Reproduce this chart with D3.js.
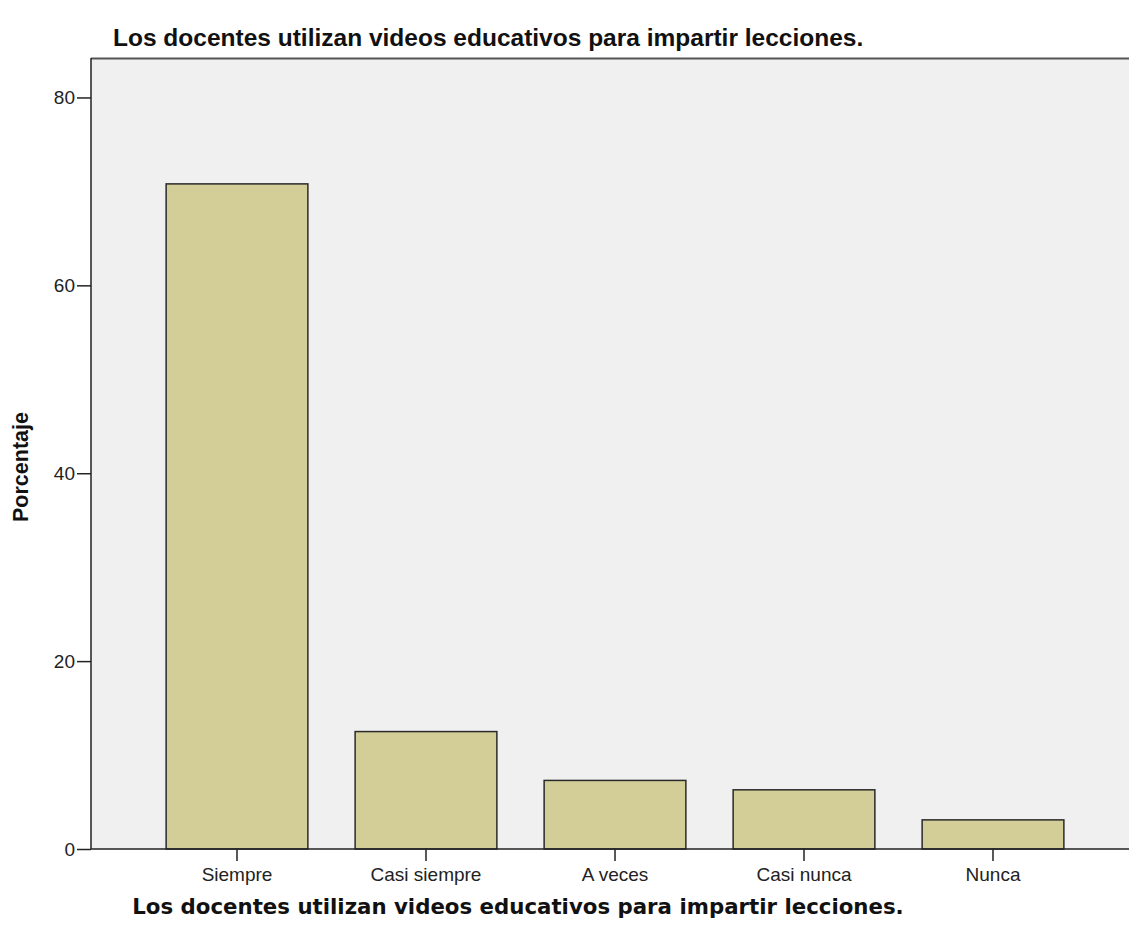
<!DOCTYPE html>
<html><head><meta charset="utf-8">
<script src="https://cdn.jsdelivr.net/npm/d3@7"></script>
<style>body{margin:0;background:#fff}svg{display:block}</style>
</head><body>
<script>
const categories = ["Siempre","Casi siempre","A veces","Casi nunca","Nunca"];
const values = [70.8, 12.5, 7.3, 6.3, 3.1];
const yTicks = [0,20,40,60,80];
const chartTitle = "Los docentes utilizan videos educativos para impartir lecciones.";
const xTitle = "Los docentes utilizan videos educativos para impartir lecciones.";
const yTitle = "Porcentaje";

const W = 1129, H = 936;
const svg = d3.select("body").append("svg").attr("width", W).attr("height", H);
const plot = {left: 91, top: 58, right: 1135, bottom: 849};

const x = d3.scaleBand().domain(categories).range([142.5, 1087.5]).paddingInner(0.25).paddingOuter(0.125);
const y = d3.scaleLinear().domain([0, 84.2]).range([plot.bottom, plot.top]);

svg.append("rect").attr("x", plot.left).attr("y", plot.top)
  .attr("width", plot.right - plot.left).attr("height", plot.bottom - plot.top)
  .attr("fill", "#f0f0f0");
svg.append("line").attr("x1", plot.left).attr("x2", W).attr("y1", plot.top + 0.5).attr("y2", plot.top + 0.5)
  .attr("stroke", "#555").attr("stroke-width", 2);

svg.append("g").selectAll("rect").data(values).join("rect")
  .attr("x", (d, i) => x(categories[i]))
  .attr("y", d => y(d))
  .attr("width", x.bandwidth())
  .attr("height", d => plot.bottom - y(d))
  .attr("fill", "#d3ce97").attr("stroke", "#2a2a2a").attr("stroke-width", 1.5);

const ya = svg.append("g").attr("transform", `translate(${plot.left},0)`)
  .call(d3.axisLeft(y).tickValues(yTicks).tickSize(14).tickPadding(2).tickSizeOuter(0));
ya.select(".domain").attr("stroke", "#222").attr("stroke-width", 1.5).attr("d", `M0,${plot.top}V${plot.bottom}`);
ya.selectAll(".tick line").attr("stroke", "#222").attr("stroke-width", 1.5);
ya.selectAll(".tick text").attr("font-family", "Liberation Sans, Arial, sans-serif").attr("font-size", 19).attr("fill", "#222");

const xa = svg.append("g").attr("transform", `translate(0,${plot.bottom})`)
  .call(d3.axisBottom(x).tickSize(12).tickPadding(7).tickSizeOuter(0));
xa.select(".domain").attr("stroke", "#222").attr("stroke-width", 1.5).attr("d", `M${plot.left},0H${W}`);
xa.selectAll(".tick line").attr("stroke", "#222").attr("stroke-width", 1.5);
xa.selectAll(".tick text").attr("font-family", "Liberation Sans, Arial, sans-serif").attr("font-size", 19).attr("fill", "#222");

svg.append("text").attr("x", 113).attr("y", 46).text(chartTitle)
  .attr("font-family", "Liberation Sans, Arial, sans-serif").attr("font-weight", "bold").attr("font-size", 24.5).attr("fill", "#111");
svg.append("text").attr("x", 518).attr("y", 914).attr("text-anchor", "middle").text(xTitle)
  .attr("font-family", "DejaVu Sans, sans-serif").attr("font-weight", "bold").attr("font-size", 21.3).attr("fill", "#111");
svg.append("text").attr("transform", "translate(28,467) rotate(-90)").attr("text-anchor", "middle").text(yTitle)
  .attr("font-family", "Liberation Sans, Arial, sans-serif").attr("font-weight", "bold").attr("font-size", 21.5).attr("fill", "#111");
</script>
</body></html>
